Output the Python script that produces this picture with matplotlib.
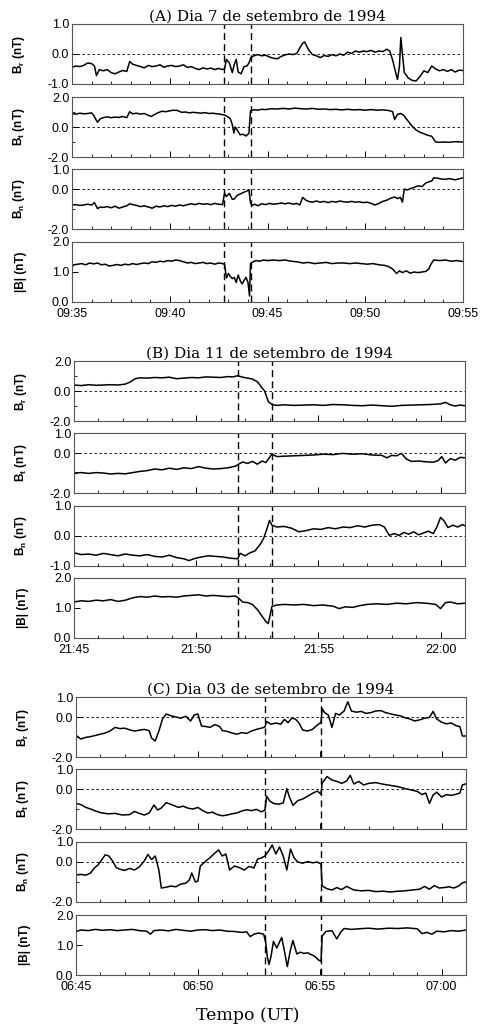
import numpy as np
import matplotlib.pyplot as plt
from matplotlib.ticker import MultipleLocator, FixedLocator, FuncFormatter

plt.rcParams['font.family'] = ['Liberation Sans', 'DejaVu Sans']
plt.rcParams['mathtext.fontset'] = 'custom'
plt.rcParams['mathtext.rm'] = 'Liberation Sans'
plt.rcParams['mathtext.bf'] = 'Liberation Sans:bold'

# ---------------- data (minutes after start of each interval) ----------------
titles = ['(A) Dia 7 de setembro de 1994', '(B) Dia 11 de setembro de 1994',
          '(C) Dia 03 de setembro de 1994']
starts = [(9, 35), (21, 45), (6, 45)]
spans = [20, 16, 16]
cuts = [[7.8, 9.15], [6.7, 8.1], [7.75, 10.07]]

# (A) 7 Sep
a_br_t = [0, 0.2, 0.4, 0.6, 0.8, 1.0, 1.15, 1.25, 1.4, 1.6,
          1.8, 2.0, 2.2, 2.4, 2.6, 2.8, 2.95, 3.1, 3.3, 3.5,
          3.7, 3.9, 4.1, 4.3, 4.5, 4.7, 4.9, 5.1, 5.3, 5.5,
          5.7, 5.9, 6.1, 6.3, 6.5, 6.7, 6.9, 7.1, 7.3, 7.5,
          7.7, 7.8, 7.9, 8.05, 8.2, 8.3, 8.4, 8.5, 8.65, 8.8,
          8.95, 9.05, 9.15, 9.3, 9.5, 9.7, 9.9, 10.1, 10.3, 10.5,
          10.7, 10.9, 11.1, 11.3, 11.5, 11.65, 11.8, 11.9, 12.1, 12.3,
          12.5, 12.7, 12.9, 13.1, 13.3, 13.5, 13.7, 13.9, 14.1, 14.3,
          14.5, 14.7, 14.9, 15.1, 15.3, 15.5, 15.7, 15.9, 16.1, 16.25,
          16.4, 16.55, 16.65, 16.75, 16.82, 16.9, 17.0, 17.2, 17.4, 17.6,
          17.8, 18.0, 18.2, 18.4, 18.6, 18.8, 19.0, 19.2, 19.4, 19.6,
          19.8, 20.0]
a_br = [-0.44, -0.40, -0.42, -0.38, -0.30, -0.32, -0.40, -0.72, -0.52, -0.56,
        -0.52, -0.62, -0.66, -0.60, -0.55, -0.58, -0.25, -0.34, -0.38, -0.42,
        -0.46, -0.38, -0.42, -0.40, -0.36, -0.44, -0.40, -0.38, -0.42, -0.40,
        -0.36, -0.45, -0.42, -0.48, -0.52, -0.46, -0.50, -0.47, -0.52, -0.48,
        -0.52, -0.50, -0.18, -0.30, -0.62, -0.35, -0.18, -0.60, -0.66, -0.42,
        -0.40, -0.30, -0.12, -0.06, -0.02, -0.06, -0.04, -0.10, -0.14, -0.16,
        -0.08, -0.03, 0.0, -0.02, 0.02, 0.20, 0.36, 0.40, 0.14, -0.02,
        -0.06, -0.12, -0.05, -0.08, -0.02, -0.06, 0.0, -0.04, 0.06, 0.02,
        0.10, 0.06, 0.10, 0.08, 0.12, 0.06, 0.10, 0.08, 0.16, 0.10,
        -0.20, -0.60, -0.85, -0.40, 0.55, 0.0, -0.62, -0.80, -0.88, -0.90,
        -0.75, -0.56, -0.62, -0.40, -0.50, -0.56, -0.52, -0.58, -0.52, -0.60,
        -0.54, -0.55]

a_bt_t = [0, 0.2, 0.4, 0.6, 0.8, 1.0, 1.1, 1.2, 1.3, 1.45,
          1.6, 1.8, 2.0, 2.2, 2.4, 2.6, 2.8, 2.95, 3.1, 3.3,
          3.5, 3.7, 3.9, 4.05, 4.2, 4.4, 4.6, 4.8, 5.0, 5.2,
          5.4, 5.6, 5.8, 6.0, 6.2, 6.4, 6.6, 6.8, 7.0, 7.2,
          7.4, 7.6, 7.8, 7.95, 8.1, 8.2, 8.28, 8.35, 8.45, 8.6,
          8.75, 8.9, 9.05, 9.13, 9.3, 9.5, 9.7, 9.9, 10.2, 10.5,
          10.8, 11.1, 11.4, 11.7, 12.0, 12.3, 12.6, 12.9, 13.2, 13.5,
          13.8, 14.1, 14.4, 14.7, 15.0, 15.3, 15.6, 15.9, 16.2, 16.4,
          16.5, 16.65, 16.8, 16.95, 17.1, 17.25, 17.4, 17.6, 17.8, 18.0,
          18.2, 18.4, 18.5, 18.6, 18.8, 19.0, 19.3, 19.6, 20.0]
a_bt = [0.88, 0.86, 0.92, 0.88, 0.90, 0.94, 0.80, 0.55, 0.32, 0.55,
        0.62, 0.68, 0.62, 0.66, 0.64, 0.70, 0.62, 1.02, 0.88, 0.92,
        0.86, 0.90, 0.78, 0.70, 0.82, 0.95, 1.05, 1.02, 1.08, 1.12,
        1.10, 0.98, 1.00, 0.94, 0.98, 0.95, 0.92, 0.96, 0.90, 0.92,
        0.88, 0.85, 0.80, 0.70, 0.55, 0.15, -0.40, 0.0, -0.20, -0.52,
        -0.48, -0.60, -0.42, 1.08, 1.15, 1.12, 1.18, 1.16, 1.22, 1.20,
        1.24, 1.20, 1.26, 1.22, 1.20, 1.24, 1.18, 1.20, 1.16, 1.18,
        1.14, 1.18, 1.14, 1.16, 1.12, 1.16, 1.12, 1.14, 1.10, 1.02,
        0.50, 0.85, 0.90, 0.80, 0.55, 0.30, 0.05, -0.20, -0.35, -0.45,
        -0.55, -0.62, -0.80, -1.00, -1.02, -1.00, -1.02, -0.98, -1.00]

a_bn_t = [0, 0.2, 0.4, 0.6, 0.8, 1.0, 1.15, 1.3, 1.45, 1.6,
          1.8, 2.0, 2.2, 2.4, 2.6, 2.8, 2.95, 3.1, 3.3, 3.5,
          3.7, 3.9, 4.1, 4.3, 4.5, 4.7, 4.9, 5.1, 5.3, 5.5,
          5.7, 5.9, 6.1, 6.3, 6.5, 6.7, 6.9, 7.1, 7.3, 7.5,
          7.7, 7.8, 7.9, 8.05, 8.2, 8.3, 8.45, 8.6, 8.75, 8.9,
          9.05, 9.13, 9.2, 9.35, 9.5, 9.7, 9.9, 10.1, 10.3, 10.5,
          10.7, 10.9, 11.1, 11.3, 11.5, 11.65, 11.8, 11.95, 12.1, 12.3,
          12.5, 12.7, 12.9, 13.1, 13.3, 13.5, 13.7, 13.9, 14.1, 14.3,
          14.5, 14.7, 14.9, 15.1, 15.3, 15.5, 15.7, 15.9, 16.1, 16.3,
          16.5, 16.65, 16.8, 16.9, 17.0, 17.15, 17.3, 17.5, 17.7, 17.9,
          18.1, 18.25, 18.4, 18.5, 18.7, 18.9, 19.1, 19.3, 19.6, 20.0]
a_bn = [-0.80, -0.78, -0.82, -0.80, -0.76, -0.80, -0.68, -0.98, -0.90, -0.92,
        -0.88, -0.94, -0.86, -0.96, -0.90, -0.84, -0.74, -0.78, -0.82, -0.88,
        -0.84, -0.90, -0.96, -0.86, -0.90, -0.84, -0.88, -0.82, -0.86, -0.80,
        -0.84, -0.78, -0.74, -0.78, -0.72, -0.76, -0.74, -0.78, -0.72, -0.76,
        -0.78, -0.22, -0.38, -0.22, -0.52, -0.50, -0.32, -0.25, -0.18, -0.12,
        -0.05, -0.68, -0.82, -0.76, -0.84, -0.74, -0.78, -0.72, -0.76, -0.74,
        -0.70, -0.74, -0.70, -0.76, -0.72, -0.80, -0.42, -0.55, -0.62, -0.66,
        -0.60, -0.66, -0.62, -0.68, -0.62, -0.66, -0.60, -0.64, -0.66, -0.62,
        -0.66, -0.64, -0.68, -0.66, -0.72, -0.80, -0.72, -0.62, -0.56, -0.46,
        -0.40, -0.48, -0.42, -0.66, 0.0, -0.05, 0.02, 0.08, 0.16, 0.12,
        0.30, 0.36, 0.40, 0.56, 0.54, 0.50, 0.48, 0.52, 0.46, 0.56]

a_b_t = [0, 0.1, 0.3, 0.5, 0.7, 0.9, 1.1, 1.3, 1.5, 1.7,
         1.9, 2.1, 2.3, 2.5, 2.7, 2.9, 3.1, 3.3, 3.5, 3.7,
         3.9, 4.1, 4.3, 4.5, 4.7, 4.9, 5.1, 5.3, 5.5, 5.7,
         5.9, 6.1, 6.3, 6.5, 6.7, 6.9, 7.1, 7.3, 7.5, 7.7,
         7.8, 7.9, 8.0, 8.1, 8.2, 8.3, 8.4, 8.5, 8.6, 8.7,
         8.8, 8.9, 9.0, 9.08, 9.13, 9.2, 9.4, 9.6, 9.8, 10.0,
         10.3, 10.6, 10.9, 11.2, 11.5, 11.8, 12.1, 12.4, 12.7, 13.0,
         13.3, 13.6, 13.9, 14.2, 14.5, 14.8, 15.1, 15.4, 15.7, 16.0,
         16.2, 16.4, 16.6, 16.75, 16.9, 17.1, 17.3, 17.5, 17.7, 17.9,
         18.1, 18.25, 18.35, 18.5, 18.8, 19.1, 19.4, 19.7, 20.0]
a_b = [1.18, 1.24, 1.26, 1.28, 1.24, 1.30, 1.27, 1.30, 1.24, 1.26,
       1.20, 1.22, 1.25, 1.22, 1.26, 1.24, 1.28, 1.25, 1.28, 1.30,
       1.28, 1.34, 1.32, 1.36, 1.34, 1.38, 1.36, 1.40, 1.38, 1.34,
       1.30, 1.32, 1.28, 1.30, 1.32, 1.28, 1.30, 1.26, 1.30, 1.28,
       1.26, 0.80, 0.95, 0.85, 0.78, 0.82, 0.65, 0.90, 0.72, 0.60,
       0.72, 0.82, 0.66, 0.20, 1.28, 1.32, 1.38, 1.36, 1.40, 1.38,
       1.40, 1.38, 1.40, 1.36, 1.34, 1.30, 1.32, 1.28, 1.30, 1.32,
       1.28, 1.30, 1.30, 1.28, 1.30, 1.28, 1.26, 1.28, 1.24, 1.22,
       1.18, 1.10, 0.95, 1.04, 0.98, 1.04, 0.96, 1.00, 0.98, 1.00,
       1.02, 1.10, 1.25, 1.40, 1.38, 1.40, 1.36, 1.38, 1.35]

# (B) 11 Sep
b_br_t = [0, 0.3, 0.6, 0.9, 1.2, 1.5, 1.8, 2.1, 2.3, 2.5,
          2.7, 3.0, 3.3, 3.6, 3.9, 4.2, 4.5, 4.8, 5.1, 5.4,
          5.7, 6.0, 6.3, 6.5, 6.7, 6.9, 7.1, 7.3, 7.5, 7.65,
          7.8, 7.95, 8.1, 8.3, 8.6, 9.0, 9.4, 9.8, 10.2, 10.6,
          11.0, 11.4, 11.8, 12.2, 12.6, 13.0, 13.4, 13.8, 14.2, 14.6,
          15.0, 15.2, 15.4, 15.6, 15.8, 16.0]
b_br = [0.40, 0.36, 0.42, 0.38, 0.40, 0.42, 0.40, 0.46, 0.60, 0.82,
        0.88, 0.86, 0.90, 0.88, 0.92, 0.82, 0.86, 0.90, 0.88, 0.94,
        0.92, 0.90, 0.96, 0.94, 1.02, 0.92, 0.86, 0.80, 0.62, 0.30,
        0.0, -0.70, -0.90, -0.96, -0.92, -0.96, -0.94, -0.92, -0.96, -0.90,
        -0.92, -0.96, -0.98, -0.94, -0.98, -1.02, -0.96, -0.94, -0.92, -0.90,
        -0.86, -0.76, -0.92, -1.00, -0.94, -0.98]

b_bt_t = [0, 0.3, 0.6, 0.9, 1.2, 1.5, 1.8, 2.1, 2.4, 2.7,
          3.0, 3.3, 3.6, 3.9, 4.2, 4.5, 4.8, 5.1, 5.4, 5.7,
          6.0, 6.3, 6.6, 6.75, 6.9, 7.1, 7.3, 7.5, 7.7, 7.85,
          8.0, 8.1, 8.3, 8.6, 9.0, 9.4, 9.8, 10.2, 10.6, 11.0,
          11.4, 11.8, 12.2, 12.6, 12.8, 13.0, 13.2, 13.4, 13.6, 13.8,
          14.1, 14.4, 14.7, 14.9, 15.05, 15.2, 15.4, 15.6, 15.8, 16.0]
b_bt = [-1.00, -0.98, -1.02, -0.98, -1.00, -1.05, -1.02, -1.04, -0.98, -0.92,
        -0.88, -0.80, -0.84, -0.76, -0.82, -0.74, -0.78, -0.68, -0.76, -0.80,
        -0.78, -0.74, -0.66, -0.55, -0.45, -0.52, -0.42, -0.56, -0.40, -0.48,
        -0.22, -0.05, -0.18, -0.16, -0.14, -0.12, -0.10, -0.06, -0.08, -0.02,
        -0.06, -0.04, -0.10, -0.12, -0.24, -0.12, -0.14, -0.02, -0.30, -0.42,
        -0.40, -0.44, -0.46, -0.38, -0.18, -0.50, -0.28, -0.36, -0.22, -0.24]

b_bn_t = [0, 0.3, 0.6, 0.9, 1.2, 1.5, 1.8, 2.1, 2.4, 2.7,
          3.0, 3.3, 3.6, 3.9, 4.2, 4.5, 4.7, 4.9, 5.2, 5.5,
          5.8, 6.1, 6.4, 6.7, 6.8, 7.0, 7.2, 7.4, 7.6, 7.75,
          7.9, 8.0, 8.1, 8.3, 8.6, 8.9, 9.2, 9.5, 9.8, 10.1,
          10.4, 10.7, 11.0, 11.3, 11.6, 11.9, 12.2, 12.5, 12.7, 12.9,
          13.1, 13.3, 13.5, 13.7, 13.9, 14.1, 14.3, 14.5, 14.7, 14.85,
          15.0, 15.15, 15.3, 15.5, 15.7, 15.9, 16.0]
b_bn = [-0.56, -0.62, -0.60, -0.64, -0.58, -0.62, -0.66, -0.60, -0.64, -0.66,
        -0.62, -0.68, -0.70, -0.64, -0.72, -0.76, -0.82, -0.76, -0.70, -0.66,
        -0.68, -0.70, -0.74, -0.76, -0.58, -0.66, -0.56, -0.50, -0.30, -0.10,
        0.25, 0.52, 0.36, 0.30, 0.32, 0.26, 0.14, 0.18, 0.24, 0.22,
        0.28, 0.24, 0.30, 0.28, 0.34, 0.30, 0.36, 0.38, 0.30, 0.02,
        0.08, 0.02, 0.12, 0.06, 0.14, 0.04, 0.10, 0.16, 0.08, 0.30,
        0.62, 0.50, 0.28, 0.36, 0.30, 0.38, 0.34]

b_b_t = [0, 0.3, 0.6, 0.9, 1.2, 1.5, 1.8, 2.1, 2.4, 2.7,
         3.0, 3.3, 3.6, 3.9, 4.2, 4.5, 4.8, 5.1, 5.4, 5.7,
         6.0, 6.3, 6.6, 6.75, 6.9, 7.1, 7.3, 7.5, 7.7, 7.85,
         7.95, 8.1, 8.3, 8.6, 9.0, 9.4, 9.8, 10.2, 10.6, 10.85,
         11.1, 11.4, 11.7, 12.0, 12.4, 12.8, 13.2, 13.6, 14.0, 14.4,
         14.8, 15.0, 15.2, 15.4, 15.7, 16.0]
b_b = [1.20, 1.24, 1.22, 1.26, 1.24, 1.28, 1.22, 1.26, 1.34, 1.38,
       1.36, 1.40, 1.37, 1.38, 1.36, 1.40, 1.42, 1.44, 1.40, 1.42,
       1.40, 1.38, 1.40, 1.32, 1.20, 1.18, 1.12, 0.95, 0.72, 0.55,
       0.48, 1.05, 1.10, 1.12, 1.10, 1.12, 1.08, 1.10, 1.06, 0.98,
       1.04, 1.02, 1.08, 1.12, 1.14, 1.12, 1.16, 1.14, 1.18, 1.16,
       1.12, 0.98, 1.18, 1.20, 1.14, 1.16]

# (C) 03 Sep
c_br_t = [0, 0.2, 0.4, 0.6, 0.8, 1.0, 1.2, 1.4, 1.6, 1.8,
          2.0, 2.2, 2.4, 2.6, 2.8, 3.0, 3.1, 3.25, 3.4, 3.55,
          3.7, 3.9, 4.1, 4.3, 4.5, 4.7, 4.85, 5.0, 5.15, 5.35,
          5.5, 5.7, 5.9, 6.0, 6.2, 6.4, 6.6, 6.8, 7.0, 7.2,
          7.4, 7.6, 7.75, 7.82, 8.0, 8.2, 8.4, 8.55, 8.7, 8.85,
          9.0, 9.15, 9.3, 9.5, 9.7, 9.9, 10.05, 10.1, 10.2, 10.35,
          10.5, 10.65, 10.8, 11.0, 11.15, 11.3, 11.5, 11.7, 11.9, 12.1,
          12.3, 12.5, 12.7, 12.9, 13.1, 13.3, 13.5, 13.7, 13.9, 14.1,
          14.3, 14.5, 14.65, 14.8, 15.0, 15.2, 15.4, 15.6, 15.75, 15.85, 16.0]
c_br = [-0.92, -1.10, -1.02, -0.98, -0.92, -0.86, -0.80, -0.70, -0.52, -0.58,
        -0.56, -0.64, -0.70, -0.66, -0.62, -0.68, -1.05, -1.20, -0.70, -0.10,
        0.15, 0.06, 0.00, -0.06, 0.04, -0.20, 0.10, 0.15, -0.45, -0.48,
        -0.52, -0.38, -0.48, -0.68, -0.72, -0.80, -0.86, -0.78, -0.82, -0.70,
        -0.62, -0.56, -0.50, -0.22, -0.36, -0.30, -0.36, -0.12, -0.28, -0.06,
        -0.10, -0.30, -0.65, -0.70, -0.62, -0.40, -0.28, 0.42, 0.22, 0.10,
        -0.52, 0.18, 0.10, 0.30, 0.76, 0.30, 0.24, 0.28, 0.18, 0.22,
        0.30, 0.32, 0.22, 0.16, 0.10, 0.06, -0.04, -0.10, -0.20, -0.14,
        -0.06, -0.02, 0.28, -0.10, -0.26, -0.34, -0.30, -0.44, -0.48, -0.95, -0.95]

c_bt_t = [0, 0.2, 0.4, 0.6, 0.8, 1.0, 1.3, 1.6, 1.9, 2.2,
          2.4, 2.6, 2.8, 3.0, 3.2, 3.35, 3.5, 3.7, 3.85, 4.0,
          4.2, 4.4, 4.6, 4.8, 5.0, 5.2, 5.4, 5.6, 5.8, 6.0,
          6.2, 6.4, 6.6, 6.8, 7.0, 7.2, 7.4, 7.6, 7.75, 7.82,
          7.95, 8.1, 8.3, 8.5, 8.65, 8.75, 8.9, 9.1, 9.3, 9.5,
          9.7, 9.9, 10.05, 10.1, 10.3, 10.5, 10.7, 10.9, 11.1, 11.25,
          11.4, 11.6, 11.8, 12.0, 12.3, 12.6, 12.9, 13.2, 13.5, 13.8,
          14.0, 14.2, 14.35, 14.5, 14.65, 14.8, 15.0, 15.2, 15.4, 15.6,
          15.75, 15.85, 16.0]
c_bt = [-0.72, -0.78, -0.92, -1.00, -1.10, -1.18, -1.24, -1.22, -1.30, -1.28,
        -1.12, -1.22, -1.30, -1.20, -0.80, -1.05, -0.95, -0.68, -0.75, -0.82,
        -0.92, -0.86, -0.96, -1.00, -0.92, -1.08, -1.20, -1.16, -1.28, -1.34,
        -1.30, -1.24, -1.20, -1.10, -1.04, -1.08, -1.02, -1.14, -1.06, -0.36,
        -0.60, -0.72, -0.76, -0.70, 0.02, -0.38, -0.82, -0.58, -0.50, -0.36,
        -0.22, -0.10, -0.26, 0.30, 0.62, 0.45, 0.38, 0.28, 0.40, 0.68,
        0.25, 0.38, 0.20, 0.28, 0.32, 0.24, 0.18, 0.12, 0.02, -0.06,
        -0.12, -0.28, -0.20, -0.72, -0.30, -0.16, -0.40, -0.28, -0.32, -0.26,
        -0.20, 0.20, 0.26]

c_bn_t = [0, 0.2, 0.4, 0.6, 0.75, 0.9, 1.05, 1.2, 1.35, 1.5,
          1.65, 1.8, 2.0, 2.2, 2.4, 2.6, 2.8, 2.95, 3.1, 3.25,
          3.4, 3.5, 3.7, 3.9, 4.1, 4.3, 4.5, 4.65, 4.75, 4.9,
          5.0, 5.1, 5.3, 5.5, 5.7, 5.85, 6.0, 6.15, 6.3, 6.5,
          6.7, 6.9, 7.1, 7.3, 7.45, 7.6, 7.75, 7.9, 8.05, 8.2,
          8.35, 8.5, 8.65, 8.8, 8.95, 9.1, 9.3, 9.5, 9.7, 9.9,
          10.05, 10.1, 10.3, 10.5, 10.7, 10.9, 11.1, 11.4, 11.7, 12.0,
          12.3, 12.6, 12.9, 13.2, 13.5, 13.8, 14.1, 14.3, 14.5, 14.7,
          14.9, 15.1, 15.3, 15.5, 15.7, 15.85, 16.0]
c_bn = [-0.65, -0.62, -0.66, -0.55, -0.30, -0.15, 0.10, 0.36, 0.30, 0.05,
        -0.28, -0.36, -0.42, -0.32, -0.40, -0.24, 0.05, 0.38, 0.12, 0.30,
        -0.40, -1.30, -1.26, -1.20, -1.24, -1.10, -1.06, -0.90, -0.55, -1.00,
        -0.96, -0.20, 0.02, 0.22, 0.45, 0.60, 0.30, 0.40, -0.40, -0.20,
        -0.28, -0.40, -0.22, -0.30, 0.15, 0.20, 0.30, 0.55, 0.85, 0.40,
        0.75, 0.30, -0.40, 0.65, 0.20, 0.0, -0.06, 0.02, -0.04, 0.0,
        -0.10, -1.20, -1.34, -1.40, -1.28, -1.38, -1.22, -1.40, -1.44, -1.42,
        -1.48, -1.46, -1.50, -1.46, -1.44, -1.40, -1.36, -1.22, -1.36, -1.18,
        -1.30, -1.28, -1.24, -1.30, -1.20, -1.04, -1.00]

c_b_t = [0, 0.2, 0.5, 0.8, 1.1, 1.4, 1.7, 2.0, 2.3, 2.6,
         2.9, 3.05, 3.2, 3.5, 3.8, 4.1, 4.4, 4.7, 5.0, 5.3,
         5.6, 5.9, 6.2, 6.5, 6.8, 7.0, 7.15, 7.3, 7.5, 7.7,
         7.78, 7.85, 7.92, 8.0, 8.1, 8.24, 8.35, 8.44, 8.55, 8.67,
         8.8, 8.9, 9.06, 9.2, 9.35, 9.5, 9.65, 9.8, 9.95, 10.05,
         10.1, 10.25, 10.5, 10.7, 10.85, 11.0, 11.3, 11.6, 12.0, 12.4,
         12.8, 13.2, 13.6, 14.0, 14.2, 14.4, 14.6, 14.8, 15.1, 15.4,
         15.7, 16.0]
c_b = [1.45, 1.50, 1.48, 1.52, 1.49, 1.51, 1.48, 1.50, 1.52, 1.48,
       1.46, 1.36, 1.48, 1.50, 1.47, 1.52, 1.49, 1.46, 1.50, 1.51,
       1.48, 1.50, 1.46, 1.45, 1.42, 1.44, 1.28, 1.36, 1.40, 1.36,
       1.10, 0.60, 0.35, 0.62, 1.12, 0.90, 1.10, 1.25, 0.80, 0.28,
       0.85, 1.15, 0.70, 0.76, 0.72, 0.74, 0.68, 0.62, 0.50, 0.45,
       1.30, 1.45, 1.48, 1.20, 1.42, 1.55, 1.52, 1.54, 1.56, 1.53,
       1.56, 1.55, 1.57, 1.54, 1.38, 1.42, 1.36, 1.46, 1.44, 1.48,
       1.46, 1.50]

ylabels = [r'$\mathbf{B_r}$ (nT)', r'$\mathbf{B_t}$ (nT)', r'$\mathbf{B_n}$ (nT)', '|B| (nT)']
series = [[(a_br_t, a_br), (a_bt_t, a_bt), (a_bn_t, a_bn), (a_b_t, a_b)],
          [(b_br_t, b_br), (b_bt_t, b_bt), (b_bn_t, b_bn), (b_b_t, b_b)],
          [(c_br_t, c_br), (c_bt_t, c_bt), (c_bn_t, c_bn), (c_b_t, c_b)]]
ylims = [[(-1, 1), (-2, 2), (-2, 1), (0, 2)],
         [(-2, 2), (-2, 1), (-1, 1), (0, 2)],
         [(-2, 1), (-2, 1), (-2, 1), (0, 2)]]
yticks = [[[-1, 0, 1], [-2, 0, 2], [-2, 0, 1], [0, 1, 2]],
          [[-2, 0, 2], [-2, 0, 1], [-1, 0, 1], [0, 1, 2]],
          [[-2, 0, 1], [-2, 0, 1], [-2, 0, 1], [0, 1, 2]]]

# ---------------- layout (pixels) ----------------
W, H = 490.0, 1026.0
lefts = [72, 74, 76]
rights = [463, 465, 466]
tops = [[24, 97, 169, 242], [361, 433, 506, 578], [697, 769, 842, 915]]
ph = 60

fig = plt.figure(figsize=(W / 100, H / 100), dpi=100)

for g in range(3):
    h0, m0 = starts[g]

    def fmt(x, pos, h0=h0, m0=m0):
        tot = h0 * 60 + m0 + int(round(x))
        return '%02d:%02d' % ((tot // 60) % 24, tot % 60)

    for p in range(4):
        top = tops[g][p]
        ax = fig.add_axes([lefts[g] / W, 1 - (top + ph) / H,
                           (rights[g] - lefts[g]) / W, ph / H])
        t, v = series[g][p]
        ax.plot(t, v, color='black', lw=1.1)
        ax.axhline(0, color='black', lw=0.6, ls=(0, (3, 3)))
        for c in cuts[g]:
            ax.axvline(c, color='black', lw=1.0, ls=(0, (5, 3)))
        ax.set_xlim(0, spans[g])
        ax.set_ylim(*ylims[g][p])
        ax.yaxis.set_major_locator(FixedLocator(yticks[g][p]))
        ax.yaxis.set_minor_locator(MultipleLocator(1))
        ax.yaxis.set_major_formatter(FuncFormatter(lambda y, pos: '%.1f' % y))
        ax.xaxis.set_major_locator(MultipleLocator(5))
        ax.xaxis.set_minor_locator(MultipleLocator(1))
        ax.tick_params(which='both', direction='in', top=False, right=False,
                       labelsize=9, pad=2)
        ax.tick_params(axis='x', pad=4)
        ax.tick_params(which='major', length=4, width=0.7)
        ax.tick_params(which='minor', length=2.5, width=0.6)
        for s in ax.spines.values():
            s.set_color('#555555')
            s.set_linewidth(0.8)
        if p < 3:
            ax.tick_params(axis='x', labelbottom=False)
        else:
            ax.xaxis.set_major_formatter(FuncFormatter(fmt))
        ax.set_ylabel(ylabels[p], fontsize=8.5, fontweight='bold')
        ax.yaxis.set_label_coords(-0.115, 0.5)
        if p == 0:
            ax.set_title(titles[g], family='DejaVu Serif', fontsize=11, pad=1)

fig.text(248 / W, 1 - 1016 / H, 'Tempo (UT)', family='DejaVu Serif',
         fontsize=12.5, ha='center', va='center')

plt.savefig('out.png', dpi=100)
